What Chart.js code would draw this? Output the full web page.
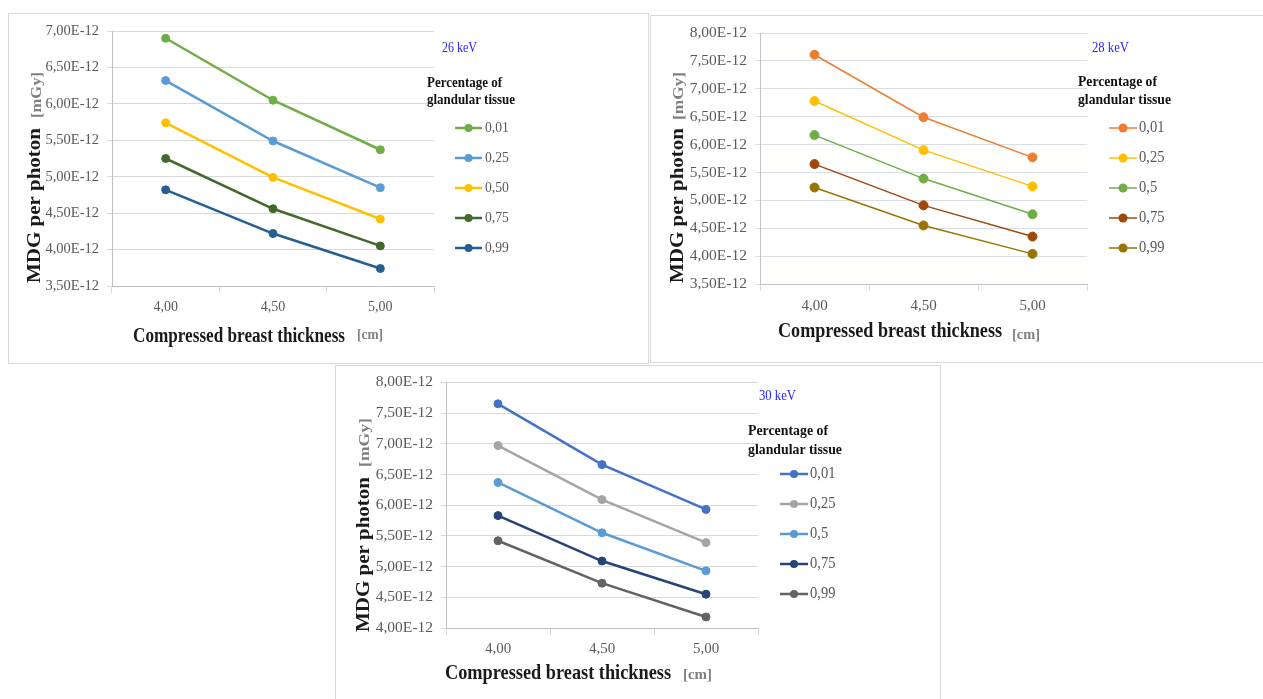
<!DOCTYPE html>
<html>
<head>
<meta charset="utf-8">
<script src="https://cdn.jsdelivr.net/npm/chart.js@4.4.0/dist/chart.umd.min.js"></script>
<style>
  html, body { margin: 0; padding: 0; background: #fff; }
  body { position: relative; width: 1263px; height: 699px; overflow: hidden; }
  .panel { position: absolute; border: 1px solid #d9d9d9; box-sizing: border-box; }
  canvas { position: absolute; }
</style>
</head>
<body>
<div class="panel" style="left:8px;top:13px;width:641px;height:351px"></div>
<div class="panel" style="left:650px;top:15px;width:620px;height:348px"></div>
<div class="panel" style="left:335px;top:365px;width:606px;height:345px"></div>
<canvas id="c26" width="639" height="350" style="left:9px;top:13px"></canvas>
<canvas id="c28" width="613" height="347" style="left:650px;top:15px"></canvas>
<canvas id="c30" width="604" height="334" style="left:336px;top:365px"></canvas>
<script>
const thickness = ["4,00", "4,50", "5,00"];
const glandular26 = ["0,01", "0,25", "0,50", "0,75", "0,99"];
const glandular28 = ["0,01", "0,25", "0,5", "0,75", "0,99"];
const glandular30 = ["0,01", "0,25", "0,5", "0,75", "0,99"];

// MDG per photon, in units of 1E-12 mGy (one row per glandular fraction)
const mdg26 = [
  [6.90, 6.05, 5.37],
  [6.32, 5.49, 4.85],
  [5.74, 4.99, 4.42],
  [5.25, 4.56, 4.05],
  [4.82, 4.22, 3.74],
];
const mdg28 = [
  [7.61, 6.49, 5.77],
  [6.78, 5.90, 5.25],
  [6.17, 5.39, 4.75],
  [5.65, 4.91, 4.35],
  [5.23, 4.55, 4.04],
];
const mdg30 = [
  [7.65, 6.66, 5.93],
  [6.97, 6.09, 5.39],
  [6.37, 5.55, 4.93],
  [5.83, 5.09, 4.55],
  [5.42, 4.73, 4.18],
];
const yRange26 = [3.5, 7.0];
const yRange28 = [3.5, 8.0];
const yRange30 = [4.0, 8.0];
const yStep = 0.5;

const colors26 = ["#70AD47", "#5B9BD5", "#FFC000", "#43682B", "#255E91"];
const colors28 = ["#ED7D31", "#FFC000", "#70AD47", "#9E480E", "#997300"];
const colors30 = ["#4472C4", "#A5A5A5", "#5B9BD5", "#264478", "#636363"];

const SERIF = "'Liberation Serif', 'Times New Roman', serif";

function fitText(ctx, text, x, y, width, font, color, vertical) {
  ctx.save();
  ctx.translate(x, y);
  if (vertical) ctx.rotate(-Math.PI / 2);
  ctx.font = font;
  const w = ctx.measureText(text).width;
  ctx.scale(width / w, 1);
  ctx.fillStyle = color;
  ctx.textAlign = "left";
  ctx.textBaseline = "middle";
  ctx.fillText(text, 0, 0);
  ctx.restore();
}

const overlayPlugin = {
  id: "overlay",
  afterDraw(chart, args, o) {
    const ctx = chart.ctx;
    // axis titles
    fitText(ctx, "MDG per photon", o.yTitle[0], o.yTitle[1], o.yTitle[2], "bold 19px " + SERIF, "#1a1a1a", true);
    fitText(ctx, "[mGy]", o.yUnit[0], o.yUnit[1], o.yUnit[2], "bold 15px " + SERIF, "#808080", true);
    fitText(ctx, "Compressed breast thickness", o.xTitle[0], o.xTitle[1], o.xTitle[2], "bold 20px " + SERIF, "#1a1a1a", false);
    fitText(ctx, "[cm]", o.xUnit[0], o.xUnit[1], o.xUnit[2], "bold 15px " + SERIF, "#808080", false);
    // energy label and legend title
    fitText(ctx, o.energy, o.kev[0], o.kev[1], o.kev[2], "14px " + SERIF, "#1f1fff", false);
    fitText(ctx, "Percentage of", o.lt1[0], o.lt1[1], o.lt1[2], "bold 14.5px " + SERIF, "#111", false);
    fitText(ctx, "glandular tissue", o.lt2[0], o.lt2[1], o.lt2[2], "bold 14.5px " + SERIF, "#111", false);
    // legend items
    const lg = o.legend;
    chart.data.datasets.forEach((ds, i) => {
      const y = lg.y0 + i * lg.dy;
      ctx.save();
      ctx.strokeStyle = ds.borderColor;
      ctx.lineWidth = ds.borderWidth;
      ctx.beginPath();
      ctx.moveTo(lg.x0, y);
      ctx.lineTo(lg.x1, y);
      ctx.stroke();
      ctx.fillStyle = ds.borderColor;
      ctx.beginPath();
      ctx.arc((lg.x0 + lg.x1) / 2, y, ds.pointRadius, 0, Math.PI * 2);
      ctx.fill();
      ctx.restore();
      ctx.save();
      ctx.translate(lg.textX, y);
      ctx.scale(0.88, 1);
      ctx.fillStyle = "#595959";
      ctx.font = lg.font + "px " + SERIF;
      ctx.textAlign = "left";
      ctx.textBaseline = "middle";
      ctx.fillText(ds.label, 0, 0);
      ctx.restore();
    });
  },
};

function makeChart(id, series, names, colors, range, look) {
  const ctx = document.getElementById(id).getContext("2d");
  return new Chart(ctx, {
    type: "line",
    data: {
      labels: thickness,
      datasets: series.map((values, i) => ({
        label: names[i],
        data: values,
        borderColor: colors[i],
        backgroundColor: colors[i],
        borderWidth: look.lineWidth,
        pointRadius: look.pointRadius,
        pointBackgroundColor: colors[i],
        pointBorderColor: colors[i],
        pointBorderWidth: 1,
        tension: 0,
      })),
    },
    options: {
      responsive: false,
      animation: false,
      layout: { padding: look.padding },
      plugins: {
        legend: { display: false },
        tooltip: { enabled: false },
        overlay: look.overlay,
      },
      scales: {
        x: {
          offset: true,
          grid: { offset: true, drawOnChartArea: false, tickLength: 7, color: look.gridColor },
          border: { color: look.axisColor },
          ticks: { font: { family: SERIF, size: look.xFont }, color: "#595959", padding: look.xPad },
          afterFit: (s) => { s.height = look.xHeight; },
        },
        y: {
          min: range[0],
          max: range[1],
          grid: { color: look.gridColor, tickLength: 5 },
          border: { color: look.axisColor },
          ticks: {
            stepSize: yStep,
            font: { family: SERIF, size: look.yFont },
            color: "#595959",
            padding: 8,
            callback: (v) => v.toFixed(2).replace(".", ",") + "E-12",
          },
          afterFit: (s) => { s.width = look.yWidth; },
        },
      },
    },
    plugins: [overlayPlugin],
  });
}

makeChart("c26", mdg26, glandular26, colors26, yRange26, {
  lineWidth: 2.5, pointRadius: 4, gridColor: "#d9d9d9", axisColor: "#bfbfbf",
  padding: { top: 18, right: 214, bottom: 37, left: 0 },
  yWidth: 103, xHeight: 40, xFont: 14, yFont: 14.5, xPad: 6,
  overlay: {
    energy: "26 keV",
    yTitle: [26, 270, 155], yUnit: [28, 105, 46],
    xTitle: [124, 324, 212], xUnit: [348, 322, 26],
    kev: [433, 35, 35], lt1: [418, 70, 75], lt2: [418, 87, 88],
    legend: { x0: 446, x1: 473, textX: 476, y0: 115, dy: 30, font: 15.5 },
  },
});

makeChart("c28", mdg28, glandular28, colors28, yRange28, {
  lineWidth: 1.5, pointRadius: 4.5, gridColor: "#d9dde6", axisColor: "#bfc4cc",
  padding: { top: 18, right: 176, bottom: 38, left: 0 },
  yWidth: 110, xHeight: 40, xFont: 15, yFont: 15.5, xPad: 6,
  overlay: {
    energy: "28 keV",
    yTitle: [28, 268, 155], yUnit: [29, 105, 48],
    xTitle: [128, 317, 224], xUnit: [362, 320, 28],
    kev: [442, 33, 37], lt1: [428, 67, 79], lt2: [428, 85, 93],
    legend: { x0: 459, x1: 487, textX: 489, y0: 113, dy: 30, font: 16.5 },
  },
});

makeChart("c30", mdg30, glandular30, colors30, yRange30, {
  lineWidth: 2.5, pointRadius: 4, gridColor: "#d9d9d9", axisColor: "#bfbfbf",
  padding: { top: 17, right: 182, bottom: 31, left: 0 },
  yWidth: 110, xHeight: 40, xFont: 15, yFont: 15.5, xPad: 5,
  overlay: {
    energy: "30 keV",
    yTitle: [28, 267, 155], yUnit: [29, 102, 49],
    xTitle: [109, 309, 226], xUnit: [347, 310, 29],
    kev: [423, 31, 37], lt1: [412, 66, 80], lt2: [412, 85, 94],
    legend: { x0: 444, x1: 472, textX: 474, y0: 109, dy: 30, font: 16.5 },
  },
});
</script>
</body>
</html>
